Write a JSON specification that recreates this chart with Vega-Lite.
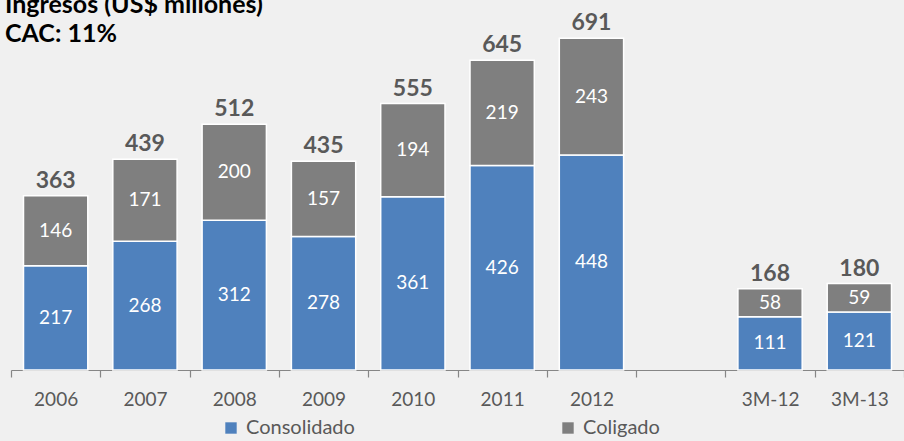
{
  "$schema": "https://vega.github.io/schema/vega-lite/v6.json",
  "autosize": {"type": "none"},
  "width": 893,
  "height": 350,
  "padding": {"left": 11, "top": 20, "right": 0, "bottom": 71},
  "background": "#f0f0f0",
  "title": {
    "text": ["Ingresos (US$ millones)", "CAC: 11%"],
    "anchor": "start",
    "frame": "group",
    "font": "Lato",
    "fontSize": 25,
    "fontWeight": "bold",
    "color": "#000000",
    "dx": -6,
    "dy": 39,
    "lineHeight": 29
  },
  "config": {
    "view": {"stroke": null},
    "font": "Lato"
  },
  "datasets": {
    "seg": [
      {"periodo": "2006", "serie": "Consolidado", "valor": 217},
      {"periodo": "2006", "serie": "Coligado", "valor": 146},
      {"periodo": "2007", "serie": "Consolidado", "valor": 268},
      {"periodo": "2007", "serie": "Coligado", "valor": 171},
      {"periodo": "2008", "serie": "Consolidado", "valor": 312},
      {"periodo": "2008", "serie": "Coligado", "valor": 200},
      {"periodo": "2009", "serie": "Consolidado", "valor": 278},
      {"periodo": "2009", "serie": "Coligado", "valor": 157},
      {"periodo": "2010", "serie": "Consolidado", "valor": 361},
      {"periodo": "2010", "serie": "Coligado", "valor": 194},
      {"periodo": "2011", "serie": "Consolidado", "valor": 426},
      {"periodo": "2011", "serie": "Coligado", "valor": 219},
      {"periodo": "2012", "serie": "Consolidado", "valor": 448},
      {"periodo": "2012", "serie": "Coligado", "valor": 243},
      {"periodo": "3M-12", "serie": "Consolidado", "valor": 111},
      {"periodo": "3M-12", "serie": "Coligado", "valor": 58},
      {"periodo": "3M-13", "serie": "Consolidado", "valor": 121},
      {"periodo": "3M-13", "serie": "Coligado", "valor": 59}
    ],
    "tot": [
      {"periodo": "2006", "total": 363},
      {"periodo": "2007", "total": 439},
      {"periodo": "2008", "total": 512},
      {"periodo": "2009", "total": 435},
      {"periodo": "2010", "total": 555},
      {"periodo": "2011", "total": 645},
      {"periodo": "2012", "total": 691},
      {"periodo": "3M-12", "total": 168},
      {"periodo": "3M-13", "total": 180}
    ]
  },
  "encoding": {
    "x": {
      "field": "periodo",
      "type": "nominal",
      "scale": {
        "domain": ["2006", "2007", "2008", "2009", "2010", "2011", "2012", " ", "3M-12", "3M-13"],
        "paddingInner": 0,
        "paddingOuter": 0
      },
      "axis": {
        "title": null,
        "labelAngle": 0,
        "labelFont": "Lato",
        "labelFontSize": 19,
        "labelColor": "#595959",
        "labelPadding": 13,
        "domainColor": "#868686",
        "domainWidth": 1.2,
        "tickColor": "#868686",
        "tickSize": 7,
        "tickWidth": 1.2,
        "tickBand": "extent",
        "grid": false
      }
    }
  },
  "layer": [
    {
      "data": {"name": "seg"},
      "mark": {"type": "bar", "width": {"band": 0.72}, "stroke": "#ffffff", "strokeWidth": 1.5},
      "encoding": {
        "y": {
          "field": "valor",
          "type": "quantitative",
          "stack": "zero",
          "scale": {"domain": [0, 729], "nice": false},
          "axis": null
        },
        "color": {
          "field": "serie",
          "type": "nominal",
          "scale": {"domain": ["Consolidado", "Coligado"], "range": ["#4f81bd", "#7f7f7f"]},
          "legend": {
            "title": null,
            "orient": "none",
            "direction": "horizontal",
            "legendX": 210,
            "legendY": 398,
            "symbolType": "square",
            "symbolSize": 130,
            "symbolStrokeWidth": 0,
            "labelFont": "Lato",
            "labelFontSize": 20,
            "labelColor": "#595959",
            "labelOffset": 5,
            "columnPadding": 203
          }
        },
        "order": {"field": "serie", "sort": "descending"}
      }
    },
    {
      "data": {"name": "seg"},
      "mark": {"type": "text", "color": "#ffffff", "fontSize": 19, "font": "Lato"},
      "encoding": {
        "y": {"field": "valor", "type": "quantitative", "stack": "zero", "bandPosition": 0.5},
        "detail": {"field": "serie"},
        "order": {"field": "serie", "sort": "descending"},
        "text": {"field": "valor", "type": "quantitative"}
      }
    },
    {
      "data": {"name": "tot"},
      "mark": {"type": "text", "color": "#595959", "fontSize": 23, "fontWeight": "bold", "font": "Lato", "baseline": "bottom", "dy": -3},
      "encoding": {
        "y": {"field": "total", "type": "quantitative"},
        "text": {"field": "total", "type": "quantitative"}
      }
    }
  ]
}
